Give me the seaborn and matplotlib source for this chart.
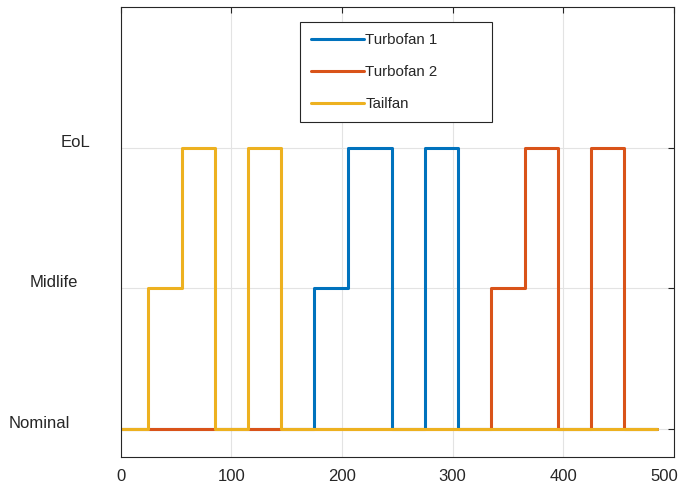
import matplotlib
matplotlib.use("Agg")
import matplotlib.pyplot as plt
import matplotlib.transforms as mtransforms
from matplotlib.lines import Line2D
import seaborn as sns
import pandas as pd

# ---- data ----
time = [0, 25, 55, 85, 115, 145, 175, 205, 245, 275, 305, 335, 365, 395, 425, 455, 485]
turbofan1 = [0, 0, 0, 0, 0, 0, 1, 2, 0, 2, 0, 0, 0, 0, 0, 0, 0]
turbofan2 = [0, 0, 0, 0, 0, 0, 0, 0, 0, 0, 0, 1, 2, 0, 2, 0, 0]
tailfan = [0, 1, 2, 0, 2, 0, 0, 0, 0, 0, 0, 0, 0, 0, 0, 0, 0]
series_names = ["Turbofan 1", "Turbofan 2", "Tailfan"]
state_labels = ["Nominal", "Midlife", "EoL"]
x_ticks = [0, 100, 200, 300, 400, 500]

colors = ["#0072BD", "#D95319", "#EDB120"]

rows = []
for name, vals in zip(series_names, [turbofan1, turbofan2, tailfan]):
    for t, v in zip(time, vals):
        rows.append({"time": t, "state": v, "series": name})
df = pd.DataFrame(rows)

sns.set_style("white")
plt.rcParams["font.family"] = ["Liberation Sans", "DejaVu Sans"]

fig = plt.figure(figsize=(6.81, 4.84), dpi=100)
ax = fig.add_axes([120.7 / 681, 1 - 456.7 / 484, (674 - 120.7) / 681, (456.7 - 7.3) / 484])

sns.lineplot(data=df, x="time", y="state", hue="series", hue_order=series_names,
             palette=colors, estimator=None, drawstyle="steps-post",
             linewidth=2.2, ax=ax, legend=False)

ax.set_xlim(0, 500)
ax.set_ylim(-0.2, 3)
ax.set_xticks(x_ticks)
ax.set_xticklabels([str(v) for v in x_ticks])
ax.set_yticks([0, 1, 2])
ax.set_yticklabels(state_labels)
ax.set_xlabel("")
ax.set_ylabel("")

ax.grid(True, color="#e3e3e3", linewidth=0.8)
ax.set_axisbelow(True)
for s in ax.spines.values():
    s.set_visible(True)
    s.set_color("#262626")
    s.set_linewidth(0.8)

ax.tick_params(axis="both", direction="in", length=4, width=0.8, color="#262626",
               top=True, right=True, labelsize=12, labelcolor="#262626")
ax.tick_params(axis="x", pad=8.5)
ax.tick_params(axis="y", pad=21.5)

def shift(label, dx, dy):
    label.set_transform(label.get_transform() +
                        mtransforms.ScaledTranslation(dx / 100, dy / 100, fig.dpi_scale_trans))

# per-label offsets (pixels) to mimic the reference placement
offsets = [(-20.7, 7), (-13, 7), (0, 7)]
for lab, (dx, dy) in zip(ax.get_yticklabels(), offsets):
    shift(lab, dx, dy)
shift(ax.get_xticklabels()[-1], -10, 0)

# legend
handles = [Line2D([], [], color=c, linewidth=2.2) for c in colors]
x0, y0 = 300.0 / 681, 1 - 126 / 484
w, h = (491.7 - 300.0) / 681, (126 - 21.7) / 484
leg = ax.legend(handles, series_names, loc="upper left",
                bbox_to_anchor=(x0, y0, w, h), bbox_transform=fig.transFigure,
                mode="expand", borderaxespad=0, fontsize=10.8,
                frameon=True, fancybox=False, edgecolor="#262626",
                framealpha=1, borderpad=0.75, labelspacing=1.2,
                handlelength=3.5, handletextpad=0.1)
leg.get_frame().set_linewidth(0.8)
fig.canvas.draw()
# keep frame left edge where the reference has it while content sits slightly left
frame = leg.get_frame()
bb = frame.get_bbox()
frame.set_bounds(bb.x0 + 3.3, bb.y0, bb.width - 3.3, bb.height)

fig.savefig("out.png", dpi=100)
